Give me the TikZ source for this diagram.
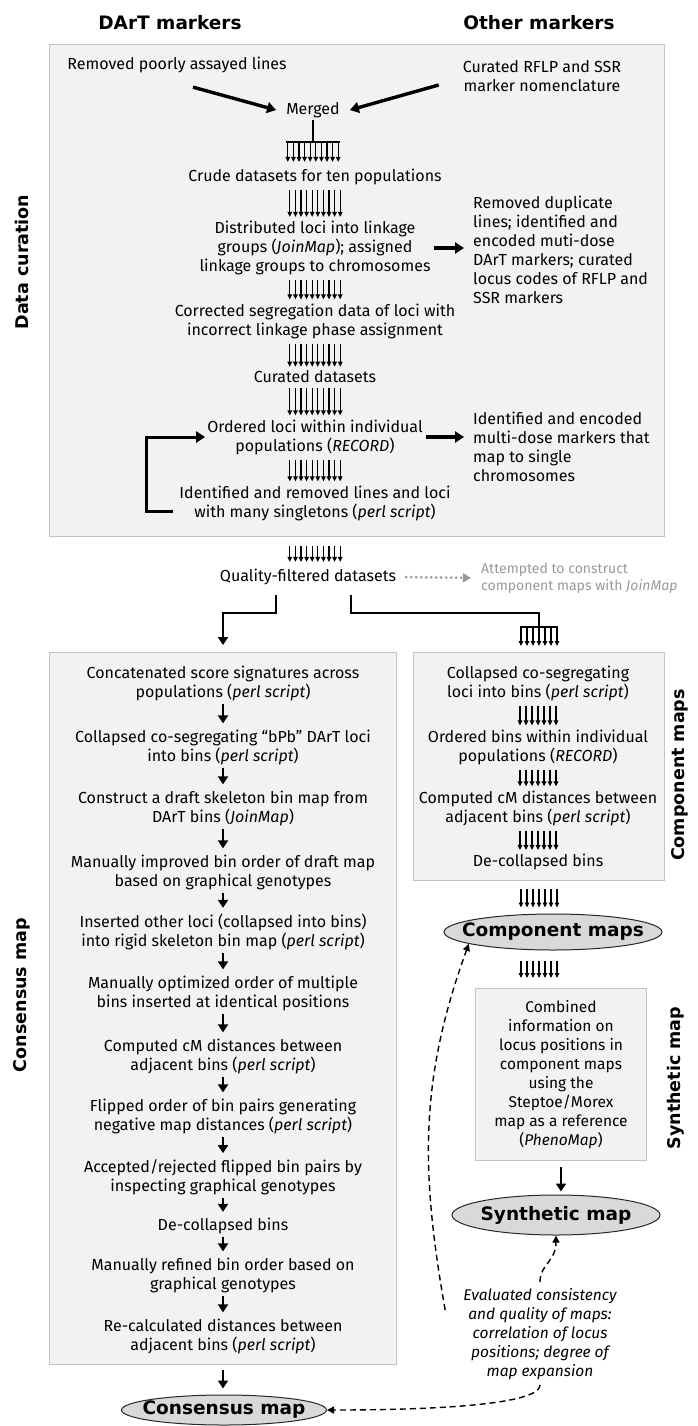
\documentclass[tikz,border=0pt]{standalone}
\usepackage{fontspec}
\setmainfont{Fira Sans}
\newfontfamily\headfont{DejaVu Sans}
\usetikzlibrary{arrows.meta}
\usetikzlibrary{calc}
\usetikzlibrary{shapes.geometric}

\definecolor{panelfill}{HTML}{F2F2F2}
\definecolor{panelline}{HTML}{C4C4C4}
\definecolor{ovalfill}{HTML}{D9D9D9}
\definecolor{notegray}{HTML}{999999}

\tikzset{
  txt/.style={align=center, font=\fontsize{16}{19}\selectfont, inner sep=2pt},
  ltxt/.style={txt, align=left, anchor=west},
  headtxt/.style={font=\headfont\bfseries\fontsize{18.5}{22}\selectfont},
  sidelab/.style={rotate=90, font=\headfont\bfseries\fontsize{17.5}{20}\selectfont},
  panel/.style={draw=panelline, fill=panelfill, line width=1pt, inner sep=0pt, anchor=north west},
  oval/.style={ellipse, draw=black!85, fill=ovalfill, line width=1pt, inner xsep=-25pt, inner ysep=-4pt,
    font=\headfont\bfseries\fontsize{18.5}{22}\selectfont},
  tine/.style={line width=1.1pt, -{Triangle[width=4.6pt,length=5pt]}},
  textgap/.style={shorten <=3pt, shorten >=2pt},
  forkstem/.style={line width=2pt},
  fatarrow/.style={line width=3.4pt, -{Triangle[width=11pt,length=9pt]}},
  onearrow/.style={line width=2.8pt, -{Triangle[width=10pt,length=8pt]}},
  branchline/.style={line width=2.8pt},
  evalarrow/.style={dash pattern=on 6pt off 4pt, line width=1.4pt, -{Triangle[width=7pt,length=7pt]}},
  notearrow/.style={notegray, line width=3pt, dash pattern=on 0pt off 5pt, line cap=round,
    -{Triangle[width=9pt,length=8pt]}}
}

% n+1 parallel arrows from #2 down to the top of node #3
\newcommand{\rake}[5][]{%
  \foreach \k in {0,...,#4}{%
    \pgfmathsetmacro{\dx}{(\k-#4/2)*#5}%
    \draw[tine,#1] ($(#2)+(\dx,0)$) -- ($(#2 |- #3.north)+(\dx,0)$);}}

\begin{document}
\begin{tikzpicture}[x=1pt,y=-1pt]
\useasboundingbox (0,0) rectangle (697,1426);

%panels
\node[panel, minimum width=615pt, minimum height=492pt] (curbox) at (49,44) {};
\node[panel, minimum width=347pt, minimum height=712pt] (consbox) at (49,652) {};
\node[panel, minimum width=251pt, minimum height=228pt] (compbox) at (413,652) {};

%headings
\node[headtxt] (darth) at (170,23) {DArT markers};
\node[headtxt] (otherh) at (539,23) {Other markers};
\node[sidelab] (curlab) at (22,262) {Data curation};
\node[sidelab] (conslab) at (22,995) {Consensus map};
\node[sidelab] (complab) at (680,775) {Component maps};
\node[sidelab] (synlab) at (676,1078) {Synthetic map};

%data curation
\node[txt] (removed) at (177,65) {Removed poorly assayed lines};
\node[txt] (curated) at (542,76) {Curated RFLP and SSR\\marker nomenclature};
\node[txt] (merged) at (313,110) {Merged};
\draw[fatarrow] ([xshift=16pt,yshift=-12pt]removed.south) -- ([xshift=-8pt]merged.west);
\draw[fatarrow] ([xshift=-22pt,yshift=-9pt]curated.west) -- ([xshift=8pt]merged.east);

\node[txt] (crude) at (315,177) {Crude datasets for ten populations};
\draw[forkstem] (merged.south) -- ++(0,22) coordinate (mfork);
\draw[forkstem] ($(mfork)+(-27,0)$) -- ($(mfork)+(27,0)$);
\rake[shorten >=5pt]{mfork}{crude}{9}{5.6}

\node[txt] (distrib) at (315,248) {Distributed loci into linkage\\groups (\textit{JoinMap}); assigned\\linkage groups to chromosomes};
\node[ltxt] (dupl) at (471,250) {Removed duplicate\\lines; identified and\\encoded muti-dose\\DArT markers; curated\\locus codes of RFLP and\\SSR markers};
\rake[textgap]{crude.south}{distrib}{9}{5.6}
\draw[fatarrow, shorten <=1pt, shorten >=7pt] (distrib.east) -- (distrib.east -| dupl.west);

\node[txt] (corrected) at (315,321) {Corrected segregation data of loci with\\incorrect linkage phase assignment};
\rake[textgap]{distrib.south}{corrected}{9}{5.6}

\node[txt] (curds) at (315,377) {Curated datasets};
\rake[textgap]{corrected.south}{curds}{9}{5.6}

\node[txt] (ordered) at (315,437) {Ordered loci within individual\\populations (\textit{RECORD})};
\node[ltxt] (multi) at (471,447) {Identified and encoded\\multi-dose markers that\\map to single\\chromosomes};
\rake[textgap]{curds.south}{ordered}{9}{5.6}
\draw[fatarrow, shorten <=1pt, shorten >=7pt] (ordered.east) -- (ordered.east -| multi.west);

\node[txt] (identrem) at (315,503) {Identified and removed lines and loci\\with many singletons (\textit{perl script})};
\rake[textgap]{ordered.south}{identrem}{9}{5.6}
\draw[fatarrow, line width=3pt, shorten <=4pt] ([yshift=-8pt]identrem.west) -- ++(-31,0) |- (ordered.west);

%filtered data
\node[txt] (quality) at (308,577) {Quality-filtered datasets};
\node[ltxt, font=\fontsize{14}{17}\selectfont, text=notegray] (attempted) at (479,578) {Attempted to construct\\component maps with \textit{JoinMap}};
\rake[shorten <=23pt, shorten >=5pt]{identrem.south}{quality}{9}{5.6}
\draw[notearrow, shorten <=8pt, shorten >=8pt] (quality.east) -- (attempted.west);

\draw[branchline, -{Triangle[width=10pt,length=8pt]}, shorten >=7pt]
  ([xshift=-32pt,yshift=-8pt]quality.south) |- ($(consbox.north)+(0,-39)$) -- (consbox.north);
\draw[branchline] ([xshift=43pt,yshift=-8pt]quality.south) |- ($(compbox.north)+(0,-39)$)
  -- ($(compbox.north)+(0,-25)$) coordinate (rfork);
\draw[forkstem] ($(rfork)+(-19,0)$) -- ($(rfork)+(19,0)$);
\rake[shorten >=6pt]{rfork}{compbox}{6}{6}

%consensus map
\node[txt] (concat) at (223,683) {Concatenated score signatures across\\populations (\textit{perl script})};
\node[txt] (bpb) at (223,747) {Collapsed co-segregating “bPb” DArT loci\\into bins (\textit{perl script})};
\node[txt] (draft) at (223,808) {Construct a draft skeleton bin map from\\DArT bins (\textit{JoinMap})};
\node[txt] (improved) at (223,872) {Manually improved bin order of draft map\\based on graphical genotypes};
\node[txt] (inserted) at (223,932) {Inserted other loci (collapsed into bins)\\into rigid skeleton bin map (\textit{perl script})};
\node[txt] (optimized) at (223,993) {Manually optimized order of multiple\\bins inserted at identical positions};
\node[txt] (computed) at (223,1056) {Computed cM distances between\\adjacent bins (\textit{perl script})};
\node[txt] (flipped) at (223,1116) {Flipped order of bin pairs generating\\negative map distances (\textit{perl script})};
\node[txt] (accepted) at (223,1177) {Accepted/rejected flipped bin pairs by\\inspecting graphical genotypes};
\node[txt] (decoll) at (223,1226) {De-collapsed bins};
\node[txt] (refined) at (223,1275) {Manually refined bin order based on\\graphical genotypes};
\node[txt] (recalc) at (223,1336) {Re-calculated distances between\\adjacent bins (\textit{perl script})};
\foreach \a/\b in {concat/bpb, bpb/draft, draft/improved, improved/inserted, inserted/optimized,
  optimized/computed, computed/flipped, flipped/accepted, accepted/decoll, decoll/refined, refined/recalc}
  \draw[onearrow, shorten <=1pt, shorten >=4pt] (\a.south) -- (\a.south |- \b.north);

\node[oval, minimum width=205pt, minimum height=30pt] (consmap) at (224,1410) {Consensus map};
\draw[onearrow, shorten <=5pt, shorten >=6pt] (consbox.south) -- (consbox.south |- consmap.north);

%component maps
\node[txt] (rbins) at (538,683) {Collapsed co-segregating\\loci into bins (\textit{perl script})};
\node[txt] (rorder) at (538,747) {Ordered bins within individual\\populations (\textit{RECORD})};
\node[txt] (rdist) at (538,808) {Computed cM distances between\\adjacent bins (\textit{perl script})};
\node[txt] (rdecoll) at (538,862) {De-collapsed bins};
\rake[textgap]{rbins.south}{rorder}{6}{6}
\rake[textgap]{rorder.south}{rdist}{6}{6}
\rake[textgap]{rdist.south}{rdecoll}{6}{6}

\node[oval, minimum width=218pt, minimum height=36pt] (compmap) at (553,932) {Component maps};
\rake[shorten <=8pt, shorten >=6pt]{compbox.south}{compmap}{6}{6}

%synthetic map
\node[panel, anchor=north, minimum width=171pt, minimum height=172pt, font=\fontsize{15.5}{19}\selectfont, align=center]
  (synbox) at (561,988) {Combined\\information on\\locus positions in\\component maps\\using the\\Steptoe/Morex\\map as a reference\\(\textit{PhenoMap})};
\coordinate (cmid) at (compbox.south |- compmap.south);
\rake[shorten <=10pt, shorten >=10pt]{cmid}{synbox}{6}{6}

\node[oval, minimum width=208pt, minimum height=40pt] (synmap) at (556,1215) {Synthetic map};
\draw[onearrow, shorten <=6pt, shorten >=3pt] (synbox.south) -- (synbox.south |- synmap.north);

%evaluation
\node[txt, font=\fontsize{15.5}{19}\selectfont\itshape] (evaluated) at (540,1334) {Evaluated consistency\\and quality of maps:\\correlation of locus\\positions; degree of\\map expansion};
\draw[evalarrow, shorten <=4pt] (evaluated.north) .. controls +(0,-22) and +(0,26) .. (synmap.south);
\draw[evalarrow, shorten <=3pt] (evaluated.south) .. controls +(0,26) and +(70,0) .. (consmap.east);
\draw[evalarrow] ([xshift=-16pt,yshift=24pt]evaluated.west) to[out=100, in=250] (compmap.188);

\end{tikzpicture}
\end{document}
